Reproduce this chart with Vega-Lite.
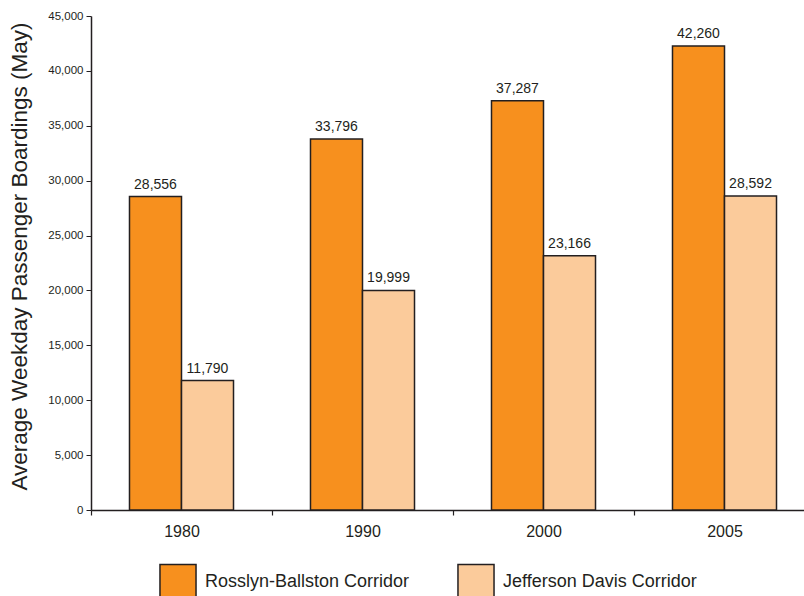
{
  "$schema": "https://vega.github.io/schema/vega-lite/v6.json",
  "width": 713,
  "height": 494,
  "autosize": {"type": "none"},
  "padding": {"left": 91, "top": 16, "right": 0, "bottom": 86},
  "background": "white",
  "config": {
    "view": {"stroke": null},
    "font": "Liberation Sans"
  },
  "data": {
    "values": [
      {"year": "1980", "corridor": "Rosslyn-Ballston Corridor", "boardings": 28556},
      {"year": "1980", "corridor": "Jefferson Davis Corridor", "boardings": 11790},
      {"year": "1990", "corridor": "Rosslyn-Ballston Corridor", "boardings": 33796},
      {"year": "1990", "corridor": "Jefferson Davis Corridor", "boardings": 19999},
      {"year": "2000", "corridor": "Rosslyn-Ballston Corridor", "boardings": 37287},
      {"year": "2000", "corridor": "Jefferson Davis Corridor", "boardings": 23166},
      {"year": "2005", "corridor": "Rosslyn-Ballston Corridor", "boardings": 42260},
      {"year": "2005", "corridor": "Jefferson Davis Corridor", "boardings": 28592}
    ]
  },
  "encoding": {
    "x": {
      "field": "year",
      "type": "nominal",
      "scale": {"range": [0, 724], "paddingInner": 0, "paddingOuter": 0},
      "axis": {
        "title": null,
        "labelAngle": 0,
        "labelFontSize": 16,
        "labelColor": "#231F20",
        "labelPadding": 8,
        "tickBand": "extent",
        "tickSize": 5,
        "tickColor": "#231F20",
        "domainColor": "#231F20",
        "domainWidth": 1.5,
        "tickWidth": 1.2
      }
    },
    "xOffset": {
      "field": "corridor",
      "type": "nominal",
      "sort": ["Rosslyn-Ballston Corridor", "Jefferson Davis Corridor"],
      "scale": {"paddingInner": 0, "paddingOuter": 0.74}
    },
    "y": {
      "field": "boardings",
      "type": "quantitative",
      "scale": {"domain": [0, 45000], "nice": false},
      "axis": {
        "title": "Average Weekday Passenger Boardings (May)",
        "titleFontSize": 22.5,
        "titleFontWeight": "normal",
        "titleColor": "#231F20",
        "titlePadding": 16,
        "titleY": 240,
        "values": [0, 5000, 10000, 15000, 20000, 25000, 30000, 35000, 40000, 45000],
        "format": ",d",
        "labelFontSize": 11.5,
        "labelColor": "#231F20",
        "labelPadding": 3,
        "tickSize": 5,
        "tickColor": "#231F20",
        "domainColor": "#231F20",
        "domainWidth": 1.5,
        "grid": false
      }
    }
  },
  "layer": [
    {
      "mark": {"type": "bar", "stroke": "#231F20", "strokeWidth": 1.5},
      "encoding": {
        "color": {
          "field": "corridor",
          "type": "nominal",
          "sort": ["Rosslyn-Ballston Corridor", "Jefferson Davis Corridor"],
          "scale": {
            "domain": ["Rosslyn-Ballston Corridor", "Jefferson Davis Corridor"],
            "range": ["#F7901E", "#FBCB9B"]
          },
          "legend": {
            "title": null,
            "orient": "none",
            "direction": "horizontal",
            "legendX": 68,
            "legendY": 547,
            "symbolType": "square",
            "symbolSize": 1300,
            "symbolStrokeColor": "#231F20",
            "symbolStrokeWidth": 1.5,
            "symbolOpacity": 1,
            "labelFontSize": 18,
            "labelColor": "#231F20",
            "labelOffset": 8,
            "labelLimit": 300,
            "columnPadding": 44,
            "padding": 0
          }
        }
      }
    },
    {
      "mark": {"type": "text", "baseline": "bottom", "dy": -5, "fontSize": 14, "color": "#231F20"},
      "encoding": {
        "text": {"field": "boardings", "type": "quantitative", "format": ","}
      }
    }
  ]
}
